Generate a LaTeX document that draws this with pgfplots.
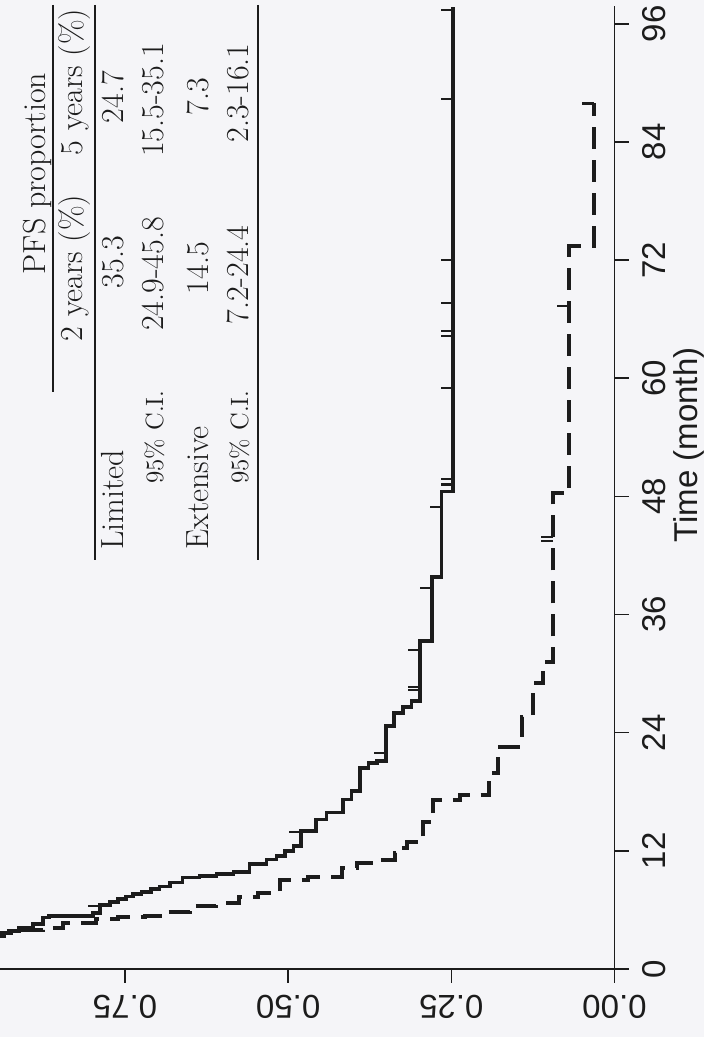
\documentclass[border=0pt]{standalone}
\usepackage{pgfplots}
\usepackage{pgfplotstable}
\pgfplotsset{compat=1.18}
\usepackage{fontspec}
\newfontfamily\arial{Liberation Sans}
\definecolor{bg}{RGB}{245,245,248}
\definecolor{ink}{RGB}{28,28,28}

\pgfplotstableread{
t s
0 1.000
1.0 0.990
1.5 0.980
2.0 0.970
2.5 0.960
3.0 0.950
3.4 0.940
3.72 0.928
3.88 0.912
4.22 0.891
4.56 0.876
5.23 0.866
5.38 0.799
5.66 0.788
6.50 0.773
6.82 0.761
7.09 0.748
7.36 0.738
7.60 0.725
7.83 0.710
8.10 0.697
8.38 0.681
8.78 0.662
9.29 0.636
9.46 0.610
9.62 0.584
9.86 0.559
10.64 0.533
11.14 0.518
11.48 0.505
11.99 0.492
12.50 0.480
14.00 0.457
15.20 0.441
15.90 0.416
17.20 0.403
18.10 0.390
20.40 0.377
20.90 0.364
21.10 0.350
24.65 0.338
26.00 0.324
26.60 0.311
27.20 0.298
33.30 0.280
39.80 0.265
48.50 0.247
97.70 0.247
}\limited

\pgfplotstableread{
t s
0 1.000
2.0 0.985
2.6 0.970
3.0 0.955
3.4 0.935
3.7 0.910
4.0 0.875
4.16 0.845
4.64 0.794
5.05 0.760
5.31 0.720
5.38 0.685
5.82 0.650
6.40 0.610
6.67 0.575
7.34 0.546
7.69 0.5125
9.04 0.469
9.38 0.418
10.23 0.395
10.74 0.359
11.07 0.336
11.75 0.330
12.26 0.318
12.93 0.293
14.96 0.278
17.17 0.237
17.68 0.193
19.88 0.178
22.58 0.142
25.63 0.125
29.02 0.109
31.22 0.094
48.30 0.069
73.40 0.032
87.90 0.032
}\extensive

\pgfplotstableread{
t s
6.4 0.788
13.9 0.480
21.9 0.350
28.3 0.298
28.6 0.298
32.4 0.298
38.7 0.280
46.9 0.265
49.2 0.247
49.8 0.247
59.0 0.247
64.3 0.247
64.8 0.247
67.6 0.247
72.0 0.247
88.35 0.247
97.4 0.247
}\limcens

\pgfplotstableread{
t s
43.5 0.094
43.9 0.094
67.3 0.069
87.9 0.032
}\extcens

\begin{document}
\begin{tikzpicture}
\fill[bg] (0,0) rectangle (352pt,518.5pt);
\begin{axis}[
  at={(307.25pt,34pt)}, anchor=south east,
  scale only axis, width=307.25pt, height=481.5pt,
  x dir=reverse,
  xmin=0, xmax=0.9415, ymin=0, ymax=97.8,
  axis x line*=bottom, axis y line*=right,
  axis line style={ink, line width=0.8pt},
  tick align=outside, major tick length=7pt,
  tick style={ink, line width=0.8pt},
  xtick={0,0.25,0.5,0.75}, xticklabels={0.00,0.25,0.50,0.75},
  ytick={0,12,24,36,48,60,72,84,96},
  yticklabels={0,12,24,36,48,60,72,84,96},
  xticklabel shift=6pt, yticklabel shift=7pt,
  xticklabel style={rotate=180, anchor=south, inner sep=0pt, font=\arial\fontsize{16.5}{18}\selectfont, text=ink},
  yticklabel style={rotate=90, anchor=north, inner sep=0pt, font=\arial\fontsize{16.5}{18}\selectfont, text=ink},
  clip=true,
]
\addplot[const plot mark right, ink, line width=1.8pt] table[x=s,y=t] {\limited};
\addplot[const plot mark right, ink, line width=2pt, dash pattern=on 11pt off 5.5pt] table[x=s,y=t] {\extensive};
\addplot[only marks, mark=-, mark size=3pt, mark options={xshift=-3pt, line width=1.1pt, ink, solid}] table[x=s,y=t] {\limcens};
\addplot[only marks, mark=-, mark size=3pt, mark options={xshift=-3pt, line width=1.1pt, ink, solid}] table[x=s,y=t] {\extcens};
\end{axis}
\node[rotate=90, anchor=base, inner sep=0pt, font=\arial\fontsize{16.5}{18}\selectfont, text=ink] at (348.5pt,296pt) {Time (month)};
% table
\begin{scope}[every node/.style={rotate=90, inner sep=0pt, text=ink, font=\fontsize{16}{19}\selectfont}]
\node[anchor=base] at (22.5pt,431.75pt) {PFS proportion};
\node[anchor=base] at (41pt,477.5pt) {5 years (\%)};
\node[anchor=base] at (41pt,384.5pt) {2 years (\%)};
\node[anchor=base] at (61.5pt,387.5pt) {35.3};
\node[anchor=base] at (61.5pt,470pt) {24.7};
\node[anchor=base] at (81.5pt,381.5pt) {24.9-45.8};
\node[anchor=base] at (81.5pt,468.5pt) {15.5-35.1};
\node[anchor=base] at (104pt,384.5pt) {14.5};
\node[anchor=base] at (104pt,470pt) {7.3};
\node[anchor=base] at (124pt,381pt) {7.2-24.4};
\node[anchor=base] at (124pt,472pt) {2.3-16.1};
\node[anchor=base west] at (61.5pt,243.5pt) {Limited};
\node[anchor=base west] at (104pt,243.5pt) {Extensive};
\node[anchor=base, font=\fontsize{12.5}{15}\selectfont] at (81.5pt,300pt) {95\% C.I.};
\node[anchor=base, font=\fontsize{12.5}{15}\selectfont] at (124pt,300pt) {95\% C.I.};
\end{scope}
\draw[ink, line width=1.1pt] (26.5pt,516pt) -- (26.5pt,322.5pt);
\draw[ink, line width=1.1pt] (47.5pt,516pt) -- (47.5pt,238.5pt);
\draw[ink, line width=1.1pt] (129pt,516pt) -- (129pt,238.5pt);
\pgfresetboundingbox
\useasboundingbox (0,0) rectangle (352pt,518.5pt);
\end{tikzpicture}
\end{document}
